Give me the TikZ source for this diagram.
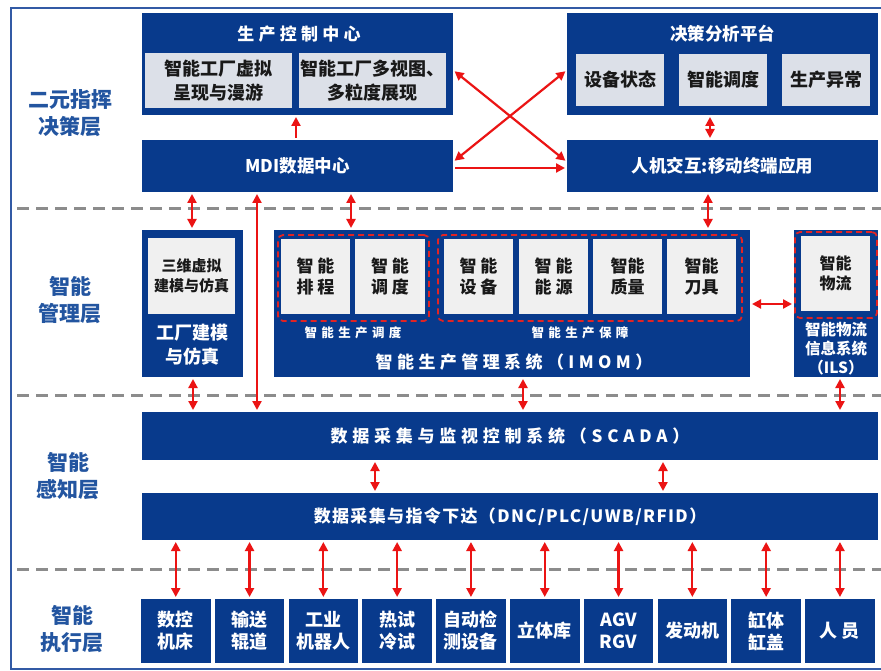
\documentclass[tikz,border=0pt]{standalone}
\usepackage{fontspec}
\setmainfont{Noto Sans CJK SC}
\usetikzlibrary{arrows.meta}
\definecolor{dblue}{RGB}{8,58,140}
\definecolor{lblue}{RGB}{35,85,160}
\definecolor{tgrey}{RGB}{220,224,232}
\definecolor{mgrey}{RGB}{240,240,240}
\definecolor{ared}{RGB}{235,20,20}
\definecolor{gred}{RGB}{225,35,35}
\definecolor{sgrey}{RGB}{140,140,140}
\definecolor{framec}{RGB}{50,90,165}
\definecolor{dtext}{RGB}{25,25,25}
\newcommand{\fsz}[2]{\fontsize{#1pt}{#2pt}\selectfont}
\newcommand{\lsp}[1]{\addfontfeatures{LetterSpace=#1}}
\begin{document}
\begin{tikzpicture}[x=1pt,y=-1pt,
  bluebox/.style={fill=dblue,draw=none,inner sep=0pt,outer sep=0pt,anchor=north west,text=white,align=center},
  tbox/.style={fill=tgrey,draw=none,inner sep=0pt,outer sep=0pt,anchor=north west,text=dtext,align=center},
  mbox/.style={fill=mgrey,draw=none,inner sep=0pt,outer sep=0pt,anchor=north west,text=dtext,align=center},
  grp/.style={draw=gred,line width=1.8pt,dash pattern=on 6pt off 4pt,rounded corners=5pt,inner sep=0pt,outer sep=0pt,anchor=north west},
  wt/.style={text=white,align=center,inner sep=0pt},
  layer/.style={text=lblue,align=center,inner sep=0pt,font=\bfseries\fsz{21}{27}},
  sepline/.style={draw=sgrey,line width=3pt,dash pattern=on 12pt off 7pt},
  arr/.style={draw=ared,line width=2.2pt,shorten >=2pt,shorten <=2pt,-{Triangle[length=9pt,width=9pt]}},
  darr/.style={draw=ared,line width=2.2pt,shorten >=2pt,shorten <=2pt,{Triangle[length=9pt,width=9pt]}-{Triangle[length=9pt,width=9pt]}}
]
\useasboundingbox (0,0) rectangle (881,671);
\fill[white] (0,0) rectangle (881,671);
\draw[framec,line width=2pt] (11,8) rectangle (886,669);

% separators
\draw[sepline] (17,209) -- (881,209);
\draw[sepline] (17,395) -- (881,395);
\draw[sepline] (17,569) -- (881,569);

% layer labels
\node[layer] (L1) at (70,113) {二元指挥\\决策层};
\node[layer] (L2) at (70,300) {智能\\管理层};
\node[layer] (L3) at (68,476) {智能\\感知层};
\node[layer] (L4) at (72,629) {智能\\执行层};

% top layer
\node[bluebox,minimum width=311pt,minimum height=102pt] (pcc) at (142,13) {};
\node[wt,font=\bfseries\fsz{17}{20}] (pcct) at (299,34) {\lsp{25}生产控制中心};
\node[tbox,minimum width=147pt,minimum height=55pt,font=\bfseries\fsz{18}{24}] (pcc1) at (145,53) {智能工厂虚拟\\呈现与漫游};
\node[tbox,minimum width=147pt,minimum height=55pt,font=\bfseries\fsz{18}{24}] (pcc2) at (299,53) {智能工厂多视图、\\多粒度展现};
\node[bluebox,minimum width=311pt,minimum height=52pt,font=\bfseries\fsz{17.5}{20}] (mdi) at (142,140) {MDI数据中心};

\node[bluebox,minimum width=311pt,minimum height=102pt] (dap) at (567,13) {};
\node[wt,font=\bfseries\fsz{17.5}{20}] (dapt) at (722.5,34) {决策分析平台};
\node[tbox,minimum width=88pt,minimum height=52pt,font=\bfseries\fsz{18}{22}] (dap1) at (576,54) {设备状态};
\node[tbox,minimum width=88pt,minimum height=52pt,font=\bfseries\fsz{18}{22}] (dap2) at (679,54) {智能调度};
\node[tbox,minimum width=88pt,minimum height=52pt,font=\bfseries\fsz{18}{22}] (dap3) at (782,54) {生产异常};
\node[bluebox,minimum width=311pt,minimum height=52pt,font=\bfseries\fsz{17.5}{20}] (hmi) at (567,140) {人机交互:移动终端应用};

% management layer
\node[bluebox,minimum width=101pt,minimum height=147pt] (fm) at (142,230) {};
\node[mbox,minimum width=87pt,minimum height=76pt,font=\bfseries\fsz{15}{20}] (fm1) at (148,238) {三维虚拟\\建模与仿真};
\node[wt,font=\bfseries\fsz{18}{24}] (fmt) at (192.5,345) {工厂建模\\与仿真};

\node[bluebox,minimum width=476pt,minimum height=147pt] (imom) at (274,230) {};
\node[grp,minimum width=151pt,minimum height=86pt] (g1) at (278,235) {};
\node[grp,minimum width=304pt,minimum height=86pt] (g2) at (438,235) {};
\node[mbox,minimum width=69pt,minimum height=75pt,font=\bfseries\fsz{17}{21}] (ip1) at (281,239) {智\hspace{4pt}能\\排\hspace{4pt}程};
\node[mbox,minimum width=70pt,minimum height=75pt,font=\bfseries\fsz{17}{21}] (ip2) at (355,239) {智\hspace{4pt}能\\调\hspace{4pt}度};
\node[mbox,minimum width=69pt,minimum height=75pt,font=\bfseries\fsz{17}{21}] (ip3) at (444,239) {智\hspace{4pt}能\\设\hspace{4pt}备};
\node[mbox,minimum width=69pt,minimum height=75pt,font=\bfseries\fsz{17}{21}] (ip4) at (519,239) {智\hspace{4pt}能\\能\hspace{4pt}源};
\node[mbox,minimum width=69pt,minimum height=75pt,font=\bfseries\fsz{17}{21}] (ip5) at (593,239) {智能\\质量};
\node[mbox,minimum width=69pt,minimum height=75pt,font=\bfseries\fsz{17}{21}] (ip6) at (667,239) {智能\\刀具};
\node[wt,font=\bfseries\fsz{12.5}{15}] (g1t) at (353,333) {\lsp{35}智能生产调度};
\node[wt,font=\bfseries\fsz{12.5}{15}] (g2t) at (580,333) {\lsp{35}智能生产保障};
\node[wt,font=\bfseries\fsz{17}{20}] (imomt) at (514,362) {\lsp{26}智能生产管理系统（IMOM）};

\node[bluebox,minimum width=84pt,minimum height=147pt] (ils) at (794,230) {};
\node[grp,minimum width=82pt,minimum height=86pt] (g3) at (795,232) {};
\node[mbox,minimum width=69pt,minimum height=75pt,font=\bfseries\fsz{16}{20}] (ils1) at (801,236) {智能\\物流};
\node[wt,font=\bfseries\fsz{15.5}{19}] (ilst) at (836,349) {智能物流\\信息系统\\（ILS）};

% perception layer
\node[bluebox,minimum width=736pt,minimum height=48pt,font=\bfseries\fsz{17}{20}] (scada) at (142,412) {\lsp{28}数据采集与监视控制系统（SCADA）};
\node[bluebox,minimum width=736pt,minimum height=47pt,font=\bfseries\fsz{17}{20}] (dnc) at (142,493) {\lsp{8}数据采集与指令下达（DNC/PLC/UWB/RFID）};

% execution layer
\foreach \t [count=\i from 0] in {{数控\\机床},{输送\\辊道},{工业\\机器人},{热试\\冷试},{自动检\\测设备},{立体库},{AGV\\RGV},{发动机},{缸体\\缸盖},{人\hspace{4pt}员}} {
  \node[bluebox,minimum width=69.5pt,minimum height=64pt,font=\bfseries\fsz{18}{22}] (e\i) at ({141+73.8*\i},599) {\t};
  \draw[darr] (e\i.north |- dnc.south) -- (e\i.north);
}

% arrows top
\draw[arr] (296,0 |- mdi.north) -- (296,0 |- pcc.south);
\draw[darr] (710,0 |- dap.south) -- (710,0 |- hmi.north);
\draw[darr] (pcc.east |- 0,70) -- (hmi.west |- 0,162);
\draw[darr] (mdi.east |- 0,162) -- (dap.west |- 0,70);
\draw[arr] (mdi.east |- 0,168) -- (hmi.west |- 0,168);

% arrows to management
\draw[darr] (192,0 |- mdi.south) -- (192,0 |- fm.north);
\draw[darr] (257,0 |- mdi.south) -- (257,0 |- scada.north);
\draw[darr] (351,0 |- mdi.south) -- (351,0 |- imom.north);
\draw[darr] (708,0 |- hmi.south) -- (708,0 |- imom.north);
\draw[darr] (imom.east |- 0,304) -- (ils.west |- 0,304);

% management to scada
\draw[darr] (193,0 |- fm.south) -- (193,0 |- scada.north);
\draw[darr] (523,0 |- imom.south) -- (523,0 |- scada.north);
\draw[darr] (840,0 |- ils.south) -- (840,0 |- scada.north);

% scada to dnc
\draw[darr] (375,0 |- scada.south) -- (375,0 |- dnc.north);
\draw[darr] (663,0 |- scada.south) -- (663,0 |- dnc.north);
\end{tikzpicture}
\end{document}
